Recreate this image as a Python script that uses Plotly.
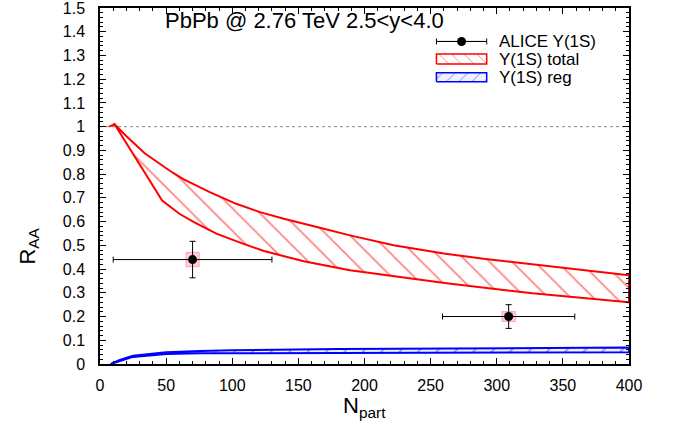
import plotly.graph_objects as go

# ---- data ----
red_up_x = [7, 11, 20, 34, 55, 63, 83, 103, 121, 139, 164, 189, 222, 260, 290, 350, 400]
red_up_y = [1.0, 1.01, 0.96, 0.887, 0.806, 0.779, 0.724, 0.675, 0.64, 0.612, 0.577, 0.542, 0.50, 0.466, 0.443, 0.406, 0.374]
red_lo_x = [7, 11, 20, 34, 47, 60, 71, 88, 108, 124, 154, 189, 262, 327, 400]
red_lo_y = [1.0, 1.01, 0.93, 0.806, 0.689, 0.633, 0.598, 0.549, 0.507, 0.476, 0.433, 0.395, 0.34, 0.298, 0.26]

blue_up_x = [8, 15, 25, 50, 76, 100, 181, 300, 400]
blue_up_y = [0.0, 0.017, 0.035, 0.05, 0.055, 0.058, 0.063, 0.067, 0.069]
blue_lo_x = [8, 15, 25, 50, 76, 100, 181, 300, 400]
blue_lo_y = [0.0, 0.012, 0.03, 0.042, 0.045, 0.046, 0.048, 0.049, 0.05]

alice_x = [70, 309]
alice_y = [0.44, 0.20]
alice_xerr = [60, 50]
alice_yerr = [0.077, 0.05]
alice_sys_x = [5, 5]
alice_sys_y = [0.03, 0.021]

y_ticks = [0, 0.1, 0.2, 0.3, 0.4, 0.5, 0.6, 0.7, 0.8, 0.9, 1, 1.1, 1.2, 1.3, 1.4, 1.5]
y_tick_labels = ["0", "0.1", "0.2", "0.3", "0.4", "0.5", "0.6", "0.7", "0.8", "0.9",
                 "1", "1.1", "1.2", "1.3", "1.4", "1.5"]
x_ticks = [0, 50, 100, 150, 200, 250, 300, 350, 400]

legend_labels = ["ALICE Y(1S)", "Y(1S) total", "Y(1S) reg"]

FONT = "Liberation Sans, Arial, Helvetica, sans-serif"
RED_PAT = dict(shape="\\", fgcolor="#ff0000", bgcolor="rgba(255,255,255,0)", size=16, solidity=0.1)
BLUE_PAT = dict(shape="/", fgcolor="#0000ff", bgcolor="rgba(210,215,255,0.35)", size=13, solidity=0.1)

fig = go.Figure()

# red band (total)
fig.add_trace(go.Scatter(
    x=red_up_x + red_lo_x[::-1], y=red_up_y + red_lo_y[::-1],
    mode="lines", fill="toself", name=legend_labels[1], showlegend=False,
    line=dict(color="#ff0000", width=2),
    fillcolor="rgba(0,0,0,0)", fillpattern=RED_PAT,
))

# blue band (regeneration)
fig.add_trace(go.Scatter(
    x=blue_up_x + blue_lo_x[::-1], y=blue_up_y + blue_lo_y[::-1],
    mode="lines", fill="toself", name=legend_labels[2], showlegend=False,
    line=dict(color="#0000ff", width=2),
    fillcolor="rgba(0,0,0,0)", fillpattern=BLUE_PAT,
))

# ALICE data
fig.add_trace(go.Scatter(
    x=alice_x, y=alice_y, mode="markers", name=legend_labels[0], showlegend=False,
    marker=dict(color="black", size=9),
    error_x=dict(type="data", array=alice_xerr, color="black", thickness=1, width=3),
    error_y=dict(type="data", array=alice_yerr, color="black", thickness=1, width=3),
))

# systematic boxes
for x, y, sx, sy in zip(alice_x, alice_y, alice_sys_x, alice_sys_y):
    fig.add_shape(type="rect", xref="x", yref="y", layer="below",
                  x0=x - sx, x1=x + sx, y0=y - sy, y1=y + sy,
                  fillcolor="rgba(255,120,140,0.35)", line=dict(color="rgba(255,120,140,0.6)", width=1))

fig.add_hline(y=1, line=dict(color="#888888", width=1, dash="dot"), layer="below")

# ---- legend keys (drawn in a 0..1 overlay frame of the plot area) ----
KX0, KX1 = 0.636, 0.731
fig.add_trace(go.Scatter(
    x=[KX0, KX1], y=[0.906, 0.906], mode="lines", xaxis="x2", yaxis="y2",
    line=dict(color="black", width=1), showlegend=False, hoverinfo="skip"))
fig.add_trace(go.Scatter(
    x=[(KX0 + KX1) / 2], y=[0.906], mode="markers", xaxis="x2", yaxis="y2",
    marker=dict(color="black", size=9), showlegend=False, hoverinfo="skip",
    error_x=dict(type="constant", value=(KX1 - KX0) / 2, color="black", thickness=1, width=3)))
for (v0, v1), col, pat in [((0.843, 0.871), "#ff0000", RED_PAT), ((0.793, 0.818), "#0000ff", BLUE_PAT)]:
    fig.add_trace(go.Scatter(
        x=[KX0, KX1, KX1, KX0, KX0], y=[v0, v0, v1, v1, v0], mode="lines", fill="toself",
        xaxis="x2", yaxis="y2", line=dict(color=col, width=1.5),
        fillcolor="rgba(0,0,0,0)", fillpattern={**pat, "size": 9}, showlegend=False, hoverinfo="skip"))

legend_ann = [
    dict(text=t, x=0.750, y=yy, xref="paper", yref="paper", showarrow=False,
         font=dict(size=17), xanchor="left", yanchor="middle")
    for t, yy in zip(legend_labels, [0.906, 0.855, 0.805])
]

fig.update_layout(
    width=678, height=429,
    margin=dict(l=100, r=49, t=8, b=65, autoexpand=False),
    paper_bgcolor="white", plot_bgcolor="white",
    font=dict(family=FONT, size=16, color="black"),
    showlegend=False,
    annotations=[
        dict(text="PbPb @ 2.76 TeV 2.5<y<4.0", x=0.387, y=0.966, xref="paper", yref="paper",
             showarrow=False, font=dict(size=22), xanchor="center", yanchor="middle"),
        dict(text="R<sub>AA</sub>", x=-0.136, y=0.33, xref="paper", yref="paper",
             showarrow=False, font=dict(size=22), textangle=-90, xanchor="center", yanchor="middle"),
        dict(text="N<sub>part</sub>", x=0.5, y=-0.12, xref="paper", yref="paper",
             showarrow=False, font=dict(size=22), xanchor="center", yanchor="middle"),
    ] + legend_ann,
    xaxis=dict(
        range=[0, 400], tickmode="array", tickvals=x_ticks, automargin=False,
        showline=True, linecolor="black", linewidth=1.5, mirror="allticks",
        ticks="inside", ticklen=6, tickcolor="black",
        minor=dict(dtick=10, tick0=0, ticks="inside", ticklen=3, tickcolor="black"),
        showgrid=False, zeroline=False, ticklabelstandoff=6, ticklabeloverflow="allow",
    ),
    yaxis=dict(
        range=[0, 1.5], tickmode="array", tickvals=y_ticks, ticktext=y_tick_labels, automargin=False,
        showline=True, linecolor="black", linewidth=1.5, mirror="allticks",
        ticks="inside", ticklen=6, tickcolor="black",
        minor=dict(dtick=0.02, tick0=0, ticks="inside", ticklen=3, tickcolor="black"),
        showgrid=False, zeroline=False, ticklabelstandoff=10, ticklabeloverflow="allow",
    ),
    xaxis2=dict(overlaying="x", range=[0, 1], visible=False, fixedrange=True),
    yaxis2=dict(overlaying="y", range=[0, 1], visible=False, fixedrange=True),
)

fig.write_html("out.html", config={"displayModeBar": False},
               post_script="document.body.style.margin='0';document.body.style.overflow='hidden';")
